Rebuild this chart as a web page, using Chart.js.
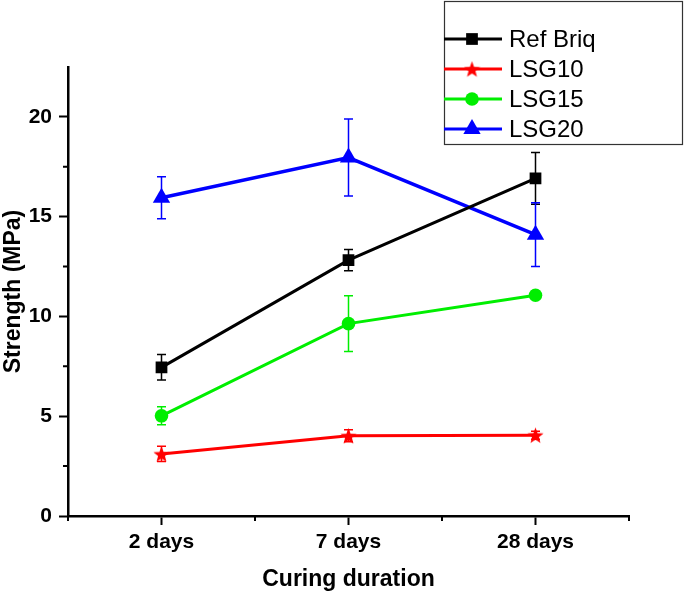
<!DOCTYPE html>
<html>
<head>
<meta charset="utf-8">
<script src="https://cdn.jsdelivr.net/npm/chart.js@4.4.1/dist/chart.umd.min.js"></script>
<style>
  html, body { margin: 0; padding: 0; background: #fff; }
</style>
</head>
<body>
<canvas id="myChart" width="685" height="595"></canvas>
<script>
var categories = ['2 days', '7 days', '28 days'];
var seriesNames = ['Ref Briq', 'LSG10', 'LSG15', 'LSG20'];
var refBriq = [7.45, 12.82, 16.92];
var refBriqErr = [0.64, 0.53, 1.3];
var lsg10 = [3.11, 4.02, 4.05];
var lsg10Err = [0.38, 0.3, 0.2];
var lsg15 = [5.02, 9.64, 11.06];
var lsg15Err = [0.45, 1.4, 0.2];
var lsg20 = [15.95, 17.96, 14.1];
var lsg20Err = [1.05, 1.93, 1.6];
var yTicks = [0, 5, 10, 15, 20];
var yMax = 22.5;

var FONT = "'Liberation Sans', Arial, sans-serif";

function makeStar(color, size) {
  var c = document.createElement('canvas');
  c.width = size; c.height = size;
  var g = c.getContext('2d');
  var cx = size / 2, cy = size / 2 + size * 0.05, R = size / 2, r = R * 0.42;
  g.beginPath();
  for (var i = 0; i < 10; i++) {
    var a = -Math.PI / 2 + i * Math.PI / 5;
    var rr = i % 2 ? r : R;
    g.lineTo(cx + rr * Math.cos(a), cy + rr * Math.sin(a));
  }
  g.closePath();
  g.fillStyle = color;
  g.fill();
  return c;
}
var redStar = makeStar('#ff0000', 17);

// error bars, drawn under the markers
var errorBars = {
  id: 'errorBars',
  beforeDatasetsDraw: function (chart) {
    var ctx = chart.ctx, y = chart.scales.y;
    chart.data.datasets.forEach(function (ds, i) {
      var meta = chart.getDatasetMeta(i);
      meta.data.forEach(function (pt, j) {
        var v = ds.data[j], e = ds.errors[j];
        var top = y.getPixelForValue(v + e), bot = y.getPixelForValue(v - e);
        ctx.save();
        ctx.strokeStyle = ds.borderColor;
        ctx.lineWidth = 1.5;
        ctx.beginPath();
        ctx.moveTo(pt.x, top); ctx.lineTo(pt.x, bot);
        ctx.moveTo(pt.x - 4.5, top); ctx.lineTo(pt.x + 4.5, top);
        ctx.moveTo(pt.x - 4.5, bot); ctx.lineTo(pt.x + 4.5, bot);
        ctx.stroke();
        ctx.restore();
      });
    });
  }
};

// short minor ticks on both axes
var minorTicks = {
  id: 'minorTicks',
  afterDraw: function (chart) {
    var ctx = chart.ctx, x = chart.scales.x, y = chart.scales.y, a = chart.chartArea;
    ctx.save();
    ctx.strokeStyle = '#000';
    ctx.lineWidth = 2;
    ctx.beginPath();
    for (var v = 2.5; v < yMax; v += 5) {
      var py = y.getPixelForValue(v);
      ctx.moveTo(a.left, py); ctx.lineTo(a.left - 5, py);
    }
    var xs = [a.left, a.right];
    for (var k = 0; k < categories.length - 1; k++) {
      xs.push((x.getPixelForTick(k) + x.getPixelForTick(k + 1)) / 2);
    }
    xs.forEach(function (px) {
      ctx.moveTo(px, a.bottom); ctx.lineTo(px, a.bottom + 5);
    });
    ctx.stroke();
    ctx.restore();
  }
};

// boxed legend in the top right corner
var boxLegend = {
  id: 'boxLegend',
  afterDraw: function (chart) {
    var ctx = chart.ctx;
    ctx.save();
    ctx.fillStyle = '#fff';
    ctx.fillRect(444, 1, 239, 143);
    ctx.strokeStyle = '#333';
    ctx.lineWidth = 1.2;
    ctx.strokeRect(444.5, 1.5, 238, 143);
    chart.data.datasets.forEach(function (ds, i) {
      var ly = 39 + i * 30;
      ctx.strokeStyle = ds.borderColor;
      ctx.lineWidth = 3;
      ctx.beginPath();
      ctx.moveTo(444, ly); ctx.lineTo(502, ly);
      ctx.stroke();
      ctx.fillStyle = ds.borderColor;
      Chart.helpers.drawPoint(ctx, {
        pointStyle: ds.pointStyle, radius: ds.pointRadius, rotation: 0, borderWidth: 0
      }, 472, ly);
      ctx.fillStyle = '#000';
      ctx.font = '24px ' + FONT;
      ctx.textBaseline = 'middle';
      ctx.textAlign = 'left';
      ctx.fillText(ds.label, 509, ly + 1);
    });
    ctx.restore();
  }
};

function series(name, values, errs, color, style, radius, width) {
  return {
    label: name,
    data: values,
    errors: errs,
    borderColor: color,
    backgroundColor: color,
    pointBackgroundColor: color,
    pointBorderColor: color,
    pointBorderWidth: 0,
    pointStyle: style,
    pointRadius: radius,
    borderWidth: width,
    tension: 0
  };
}

window.onload = function () {
  const ctx = document.getElementById('myChart');
  const myChart = new Chart(ctx, {
    type: 'line',
    data: {
      labels: categories,
      datasets: [
        series(seriesNames[0], refBriq, refBriqErr, '#000000', 'rect', 8.3, 3),
        series(seriesNames[1], lsg10, lsg10Err, '#ff0000', redStar, 8, 3),
        series(seriesNames[2], lsg15, lsg15Err, '#00ee00', 'circle', 6.8, 3),
        series(seriesNames[3], lsg20, lsg20Err, '#0000ff', 'triangle', 10, 3.5)
      ]
    },
    options: {
      responsive: false,
      animation: false,
      layout: { padding: { left: 0, top: 67, right: 56, bottom: 0 } },
      plugins: { legend: { display: false }, tooltip: { enabled: false } },
      scales: {
        x: {
          type: 'category',
          offset: true,
          grid: { display: true, drawOnChartArea: false, drawTicks: true, tickLength: 9, tickWidth: 2, tickColor: '#000', offset: false },
          border: { display: true, color: '#000', width: 2.5 },
          ticks: { color: '#000', font: { family: FONT, size: 21, weight: 'bold' }, padding: 5, maxRotation: 0 },
          title: { display: true, text: 'Curing duration', color: '#000', font: { family: FONT, size: 23, weight: 'bold' }, padding: { top: 0, bottom: 2 } },
          afterFit: function (s) { s.height = 79; }
        },
        y: {
          min: 0,
          max: yMax,
          grid: { display: true, drawOnChartArea: false, drawTicks: true, tickLength: 9, tickWidth: 2, tickColor: '#000' },
          border: { display: true, color: '#000', width: 2.5 },
          ticks: { color: '#000', font: { family: FONT, size: 21, weight: 'bold' }, padding: 7 },
          afterBuildTicks: function (s) { s.ticks = yTicks.map(function (v) { return { value: v }; }); },
          title: { display: true, text: 'Strength (MPa)', color: '#000', font: { family: FONT, size: 23, weight: 'bold' }, padding: { top: 0, bottom: 0 } },
          afterFit: function (s) { s.width = 68; }
        }
      }
    },
    plugins: [errorBars, minorTicks, boxLegend]
  });
};
</script>
</body>
</html>
